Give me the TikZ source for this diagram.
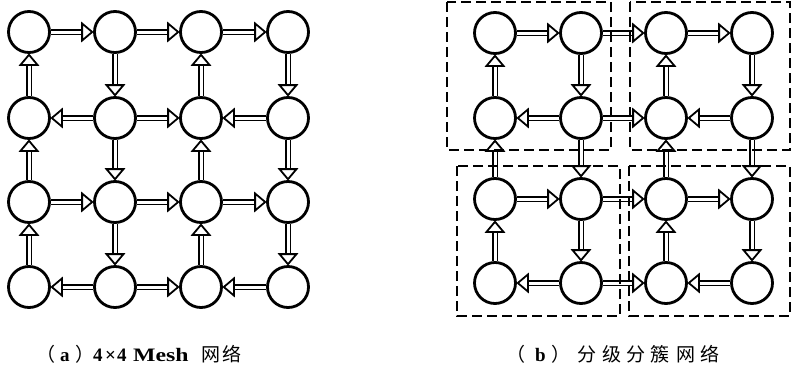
\documentclass[tikz,border=0pt]{standalone}
\usepackage{fontspec}
\setmainfont{Liberation Serif}
\newfontfamily\cjk{Noto Sans CJK SC}
\newfontfamily\latin{Liberation Serif Bold}
\newfontfamily\latinwide[FakeStretch=1.25]{Liberation Serif Bold}
\newcommand{\tok}[2]{\makebox[#1pt][l]{#2}}
\usetikzlibrary{decorations.markings,backgrounds}
\begin{document}
\begin{tikzpicture}[x=1pt,y=-1pt,
  nd/.style={circle, draw, line width=2.8pt, minimum size=41pt, inner sep=0pt},
  harrow/.style={line width=6.6pt, shorten >=8pt,
    postaction={draw=white, line width=3pt},
    postaction={decorate,
      decoration={markings, mark=at position 1 with {
        \draw[black, line width=1.8pt, fill=white, line join=miter]
          (-0.9pt,0pt) -- (-11pt,8.5pt) -- (-11pt,-8.5pt) -- cycle;}}}},
  cluster/.style={draw, line width=1.5pt, dash pattern=on 10pt off 5pt},
  captext/.style={font=\fontsize{19}{23}\selectfont, anchor=base west, inner sep=0pt}]
\useasboundingbox (0,0) rectangle (792,370);
% left grid
\foreach \r/\y in {1/32,2/118,3/202,4/287}{
  \foreach \c/\x in {1/29,2/115,3/201,4/288}{
    \node[nd] (L\r\c) at (\x,\y) {};
  }
}
% right grid
\foreach \r/\y in {1/33,2/118,3/199,4/283}{
  \foreach \c/\x in {1/495,2/581,3/666,4/752}{
    \node[nd] (R\r\c) at (\x,\y) {};
  }
}
% connectors (under the circle outlines)
\begin{pgfonlayer}{background}
\foreach \g in {L,R}{
  \foreach \a/\b in {11/12,12/13,13/14,22/21,22/23,24/23,31/32,32/33,33/34,42/41,42/43,44/43,
                     21/11,12/22,23/13,14/24,31/21,22/32,33/23,24/34,41/31,32/42,43/33,34/44}{
    \draw[harrow] (\g\a) -- (\g\b);
  }
}
\end{pgfonlayer}
% clusters
\draw[cluster] (447,2) rectangle (611,150);
\draw[cluster] (630,2) rectangle (790,150);
\draw[cluster] (457,166) rectangle (620,316);
\draw[cluster] (629,166) rectangle (790,316);
% captions
\node[captext] (capa) at (50,361) {\tok{10}{\hspace*{-14pt}\cjk （}\tok{15}{\latin a}\tok{18}{\cjk ）}\tok{12}{\latin 4}\tok{12}{\latin ×}\tok{16}{\latin 4}\tok{68}{\latinwide Mesh}\tok{21}{\cjk 网}\tok{17}{\cjk 络}};
\node[captext] (capb) at (520,361) {\tok{15}{\hspace*{-14pt}\cjk （}\tok{16}{\latin b}\tok{26}{\cjk ）}\tok{25}{\cjk 分}\tok{24}{\cjk 级}\tok{24}{\cjk 分}\tok{26}{\cjk 簇}\tok{24}{\cjk 网}\tok{18}{\cjk 络}};
\end{tikzpicture}
\end{document}
